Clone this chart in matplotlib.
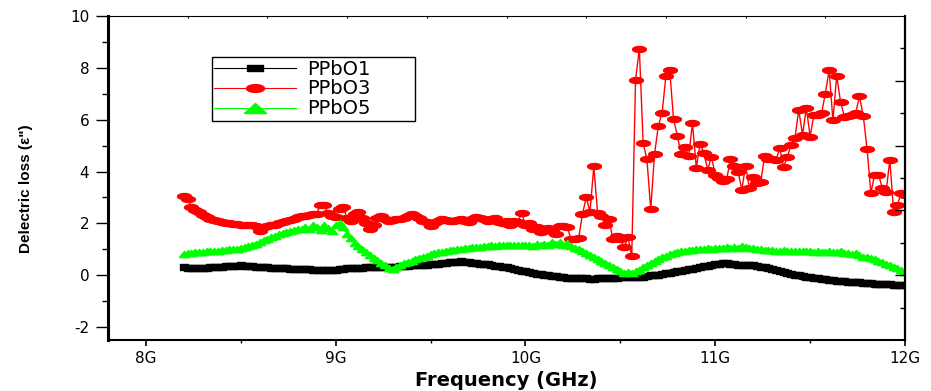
import numpy as np
import matplotlib
matplotlib.use('Agg')
import matplotlib.pyplot as plt
from matplotlib.lines import Line2D

plt.rcParams['axes.unicode_minus'] = False

# dielectric loss vs frequency, 8.2 - 12 GHz, step 0.02 GHz
freq = np.linspace(8.2, 12.0, 191)

ppbo1 = [0.30, 0.29, 0.28, 0.28, 0.27,
         0.28, 0.29, 0.30, 0.31, 0.32,
         0.33, 0.34, 0.35, 0.36, 0.37,
         0.38, 0.37, 0.36, 0.35, 0.33,
         0.32, 0.31, 0.30, 0.29, 0.28,
         0.27, 0.27, 0.26, 0.25, 0.25,
         0.24, 0.24, 0.23, 0.23, 0.22,
         0.22, 0.22, 0.21, 0.22, 0.22,
         0.22, 0.23, 0.25, 0.26, 0.27,
         0.28, 0.29, 0.29, 0.30, 0.30,
         0.30, 0.30, 0.31, 0.31, 0.32,
         0.32, 0.33, 0.34, 0.35, 0.36,
         0.38, 0.38, 0.39, 0.40, 0.41,
         0.42, 0.44, 0.45, 0.47, 0.49,
         0.50, 0.51, 0.52, 0.53, 0.52,
         0.50, 0.49, 0.47, 0.45, 0.43,
         0.42, 0.40, 0.37, 0.34, 0.32,
         0.30, 0.27, 0.24, 0.20, 0.18,
         0.15, 0.12, 0.09, 0.06, 0.04,
         0.02, 0.00, -0.02, -0.04, -0.06,
         -0.08, -0.09, -0.10, -0.11, -0.12,
         -0.12, -0.12, -0.13, -0.13, -0.12,
         -0.12, -0.11, -0.10, -0.10, -0.09,
         -0.08, -0.08, -0.07, -0.07, -0.06,
         -0.06, -0.05, -0.03, -0.01, 0.00,
         0.02, 0.04, 0.07, 0.10, 0.12,
         0.15, 0.18, 0.20, 0.23, 0.25,
         0.28, 0.31, 0.34, 0.37, 0.40,
         0.42, 0.45, 0.48, 0.47, 0.45,
         0.42, 0.40, 0.39, 0.38, 0.38,
         0.38, 0.36, 0.33, 0.30, 0.27,
         0.25, 0.21, 0.17, 0.13, 0.09,
         0.05, 0.02, -0.01, -0.04, -0.06,
         -0.08, -0.10, -0.12, -0.14, -0.16,
         -0.18, -0.19, -0.21, -0.22, -0.24,
         -0.25, -0.26, -0.27, -0.28, -0.29,
         -0.30, -0.31, -0.32, -0.33, -0.34,
         -0.35, -0.35, -0.36, -0.36, -0.37,
         -0.37]

ppbo3 = [3.05, 2.95, 2.62, 2.52, 2.42,
         2.32, 2.25, 2.18, 2.12, 2.08,
         2.05, 2.02, 2.00, 1.98, 1.96,
         1.95, 1.94, 1.93, 1.92, 1.90,
         1.72, 1.85, 1.88, 1.92, 1.95,
         2.00, 2.04, 2.08, 2.12, 2.18,
         2.24, 2.28, 2.30, 2.32, 2.35,
         2.38, 2.72, 2.70, 2.40, 2.30,
         2.25, 2.55, 2.62, 2.20, 2.10,
         2.35, 2.45, 2.20, 2.00, 1.78,
         1.95, 2.20, 2.28, 2.15, 2.10,
         2.12, 2.15, 2.18, 2.20, 2.30,
         2.35, 2.28, 2.20, 2.10, 2.05,
         1.90, 2.00, 2.10, 2.15, 2.12,
         2.10, 2.08, 2.12, 2.15, 2.10,
         2.05, 2.15, 2.25, 2.20, 2.18,
         2.10, 2.15, 2.20, 2.05, 2.00,
         2.08, 1.92, 2.10, 2.05, 2.40,
         1.95, 2.00, 1.80, 1.85, 1.65,
         1.78, 1.82, 1.70, 1.60, 1.88,
         1.90, 1.85, 1.40, 1.38, 1.42,
         2.35, 3.00, 2.45, 4.20, 2.40,
         2.30, 1.95, 2.15, 1.40, 1.50,
         1.40, 1.07, 1.46, 0.73, 7.55,
         8.73, 5.10, 4.47, 2.54, 4.67,
         5.77, 6.26, 7.70, 7.92, 6.03,
         5.38, 4.68, 4.95, 4.60, 5.87,
         4.15, 5.07, 4.73, 4.07, 4.57,
         3.88, 3.75, 3.62, 3.70, 4.47,
         4.20, 4.00, 3.30, 4.23, 3.35,
         3.80, 3.57, 3.60, 4.60, 4.47,
         4.50, 4.45, 4.90, 4.18, 4.58,
         5.03, 5.30, 6.38, 5.42, 6.45,
         5.35, 6.20, 6.20, 6.25, 7.00,
         7.92, 5.97, 7.70, 6.70, 6.12,
         6.15, 6.20, 6.26, 6.90, 6.15,
         4.88, 3.18, 3.88, 3.88, 3.38,
         3.20, 4.45, 2.43, 2.72, 3.18,
         3.10]

ppbo5 = [0.80, 0.84, 0.86, 0.88, 0.90,
         0.90, 0.92, 0.93, 0.95, 0.95,
         0.97, 0.98, 1.00, 1.00, 1.02,
         1.05, 1.08, 1.12, 1.16, 1.22,
         1.28, 1.34, 1.40, 1.46, 1.52,
         1.58, 1.62, 1.66, 1.70, 1.75,
         1.80, 1.78, 1.85, 1.80, 1.92,
         1.85, 1.75, 1.95, 1.82, 1.70,
         1.95, 2.02, 1.85, 1.60, 1.42,
         1.25, 1.12, 1.00, 0.88, 0.78,
         0.68, 0.58, 0.48, 0.38, 0.28,
         0.25, 0.32, 0.40, 0.46, 0.52,
         0.56, 0.62, 0.68, 0.72, 0.76,
         0.80, 0.84, 0.88, 0.90, 0.94,
         0.96, 0.98, 1.00, 1.02, 1.04,
         1.05, 1.08, 1.10, 1.10, 1.12,
         1.14, 1.15, 1.14, 1.16, 1.15,
         1.16, 1.15, 1.17, 1.16, 1.15,
         1.15, 1.18, 1.14, 1.20, 1.16,
         1.22, 1.15, 1.28, 1.20, 1.30,
         1.18, 1.25, 1.12, 1.05, 1.00,
         0.92, 0.85, 0.78, 0.70, 0.62,
         0.55, 0.48, 0.40, 0.32, 0.24,
         0.16, 0.10, 0.12, 0.08, 0.15,
         0.22, 0.30, 0.40, 0.48, 0.56,
         0.62, 0.70, 0.76, 0.82, 0.86,
         0.90, 0.92, 0.95, 0.96, 0.98,
         1.00, 1.00, 1.02, 1.04, 1.03,
         1.05, 1.06, 1.05, 1.07, 1.06,
         1.08, 1.06, 1.12, 1.08, 1.05,
         1.04, 1.02, 1.00, 0.98, 0.97,
         0.96, 0.95, 0.94, 0.96, 0.94,
         0.93, 0.94, 0.92, 0.93, 0.92,
         0.92, 0.91, 0.93, 0.90, 0.91,
         0.93, 0.90, 0.88, 0.92, 0.87,
         0.85, 0.82, 0.84, 0.78, 0.72,
         0.70, 0.66, 0.62, 0.56, 0.50,
         0.44, 0.38, 0.32, 0.26, 0.20,
         0.12]

labels = ['PPbO1', 'PPbO3', 'PPbO5']
xticks = [8, 9, 10, 11, 12]
xticklabels = ['8G', '9G', '10G', '11G', '12G']

# flattened marker shapes (the original graph is stretched sideways)
sq = [(-1, -0.7), (1, -0.7), (1, 0.7), (-1, 0.7), (-1, -0.7)]
t = np.linspace(0, 2 * np.pi, 40)
ell = list(zip(np.cos(t), 0.43 * np.sin(t)))
tri = [(-1, -0.6), (1, -0.6), (0, 0.6), (-1, -0.6)]

fig = plt.figure(figsize=(9.31, 3.91), dpi=100)
ax = fig.add_axes([0.116, 0.1304, 0.8561, 0.8286])

ax.plot(freq, ppbo1, color='black', lw=1, marker=sq, ms=6, mec='black', mfc='black')
ax.plot(freq, ppbo3, color='red', lw=1, marker=ell, ms=10, mec='red', mfc='red')
ax.plot(freq, ppbo5, color='#00ff00', lw=1, marker=tri, ms=7.5, mec='#00ff00', mfc='#00ff00')

ax.set_xlim(7.8, 12)
ax.set_ylim(-2.5, 10)
ax.set_xticks(xticks)
ax.set_xticklabels(xticklabels)
ax.set_xticks(np.arange(8.5, 12, 1), minor=True)
ax.set_yticks([-2, 0, 2, 4, 6, 8, 10])
ax.set_yticks([-1, 1, 3, 5, 7, 9], minor=True)
ax.tick_params(axis='x', which='major', direction='out', length=4, width=1.2, labelsize=11, pad=4)
ax.tick_params(axis='x', which='minor', direction='out', length=2, width=1.0)
ax.tick_params(axis='y', which='major', direction='out', length=8.5, width=1.0, labelsize=11, pad=5)
ax.tick_params(axis='y', which='minor', direction='out', length=4.5, width=1.0)

ax.spines['left'].set_linewidth(2.2)
ax.spines['bottom'].set_linewidth(1.5)
ax.spines['right'].set_visible(False)
ax.spines['top'].set_visible(False)

# right and top frame axes with their own (unlabelled) ticks
axr = ax.twinx()
axr.set_ylim(0, 10)
axr.set_yticks([2, 4, 6, 8])
axr.set_yticks([1, 3, 5, 7, 9], minor=True)
axr.tick_params(axis='y', which='major', direction='in', length=7, width=1.0, labelright=False)
axr.tick_params(axis='y', which='minor', direction='in', length=3.5, width=1.0)
for s in ['left', 'top', 'bottom']:
    axr.spines[s].set_visible(False)
axr.spines['right'].set_linewidth(1.6)

axt = ax.twiny()
axt.set_xlim(0, 10)
axt.set_xticks(range(1, 10))
axt.tick_params(axis='x', which='major', direction='in', length=1.5, width=0.8, labeltop=False)
for s in ['left', 'right', 'bottom']:
    axt.spines[s].set_visible(False)
axt.spines['top'].set_linewidth(0.8)

ax.set_xlabel('Frequency (GHz)', fontsize=14, fontweight='bold')
ax.xaxis.set_label_coords(0.5, -0.095)
ax.set_ylabel('Delectric loss (\u03b5")', fontsize=11, fontweight='bold',
              family=['Liberation Sans', 'DejaVu Sans'])
ax.yaxis.set_label_coords(-0.094, 0.466)

handles = [Line2D([], [], color='black', lw=0.8, marker=[(-1, -0.35), (1, -0.35), (1, 0.35), (-1, 0.35), (-1, -0.35)], ms=12),
           Line2D([], [], color='red', lw=0.8, marker=ell, ms=13),
           Line2D([], [], color='#00ff00', lw=0.8, marker=[(-1, -0.45), (1, -0.45), (0, 0.45), (-1, -0.45)], ms=16)]
leg = ax.legend(handles, labels, loc='upper left', bbox_to_anchor=(0.130, 0.5, 0.2547, 0.373),
                mode='expand', borderaxespad=0,
                fontsize=14, handlelength=4.2, handletextpad=0.6, labelspacing=0.05,
                borderpad=0.12, fancybox=False, framealpha=1, edgecolor='black')
leg.get_frame().set_linewidth(1.0)

plt.savefig('out.png', dpi=100)
